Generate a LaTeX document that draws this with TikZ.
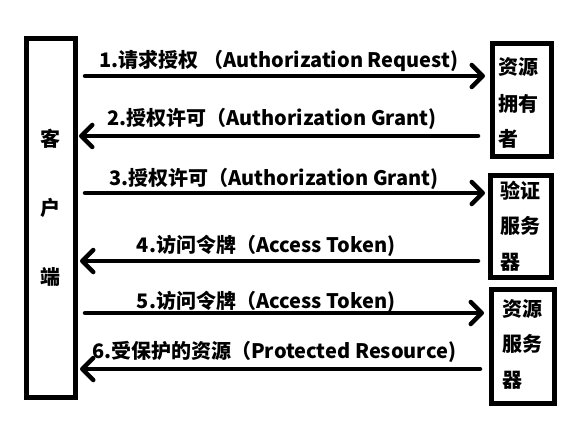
\documentclass[tikz,border=0pt]{standalone}
\usepackage{fontspec}
\setmainfont{Noto Sans CJK SC}
\usetikzlibrary{arrows.meta,calc}
\begin{document}
\begin{tikzpicture}[x=1pt,y=-1pt,
  box/.style={draw,line width=5pt,inner sep=0pt},
  txt/.style={font=\fontsize{20}{23}\selectfont\bfseries,inner sep=0pt},
  lbl/.style={txt},
  conn/.style={line width=4.5pt,line cap=round},
  fwd/.style={conn,-{Straight Barb[length=11pt,width=22pt,line cap=round,line join=round]}},
  bwd/.style={conn,{Straight Barb[length=11pt,width=22pt,line cap=round,line join=round]}-}]
\useasboundingbox (0,0) rectangle (585,430);
\node[box,minimum width=49pt,minimum height=359pt] (client) at (51,218) {};
\node[box,minimum width=59pt,minimum height=113pt] (owner) at (522,100) {};
\node[box,minimum width=61pt,minimum height=102pt] (auth) at (521,226.5) {};
\node[box,minimum width=63pt,minimum height=114pt] (res) at (523,346.5) {};
% texts in boxes
\node[txt] (c1) at (50,139) {客};
\node[txt] (c2) at (50,208) {户};
\node[txt] (c3) at (50,277) {端};
\node[txt,anchor=west] (o1) at (498,67) {资源};
\node[txt,anchor=west] (o2) at (498,104) {拥有};
\node[txt,anchor=west] (o3) at (498,139) {者};
\node[txt,anchor=west] (a1) at (500,191) {验证};
\node[txt,anchor=west] (a2) at (500,226) {服务};
\node[txt,anchor=west] (a3) at (500,262) {器};
\node[txt,anchor=west] (r1) at (502,309) {资源};
\node[txt,anchor=west] (r2) at (502,344) {服务};
\node[txt,anchor=west] (r3) at (502,380) {器};
% labels
\node[lbl] (l1) at (279,61) {1.请求授权 （Authorization Request)};
\node[lbl] (l2) at (272,119) {2.授权许可（Authorization Grant)};
\node[lbl] (l3) at (274,179) {3.授权许可（Authorization Grant)};
\node[lbl] (l4) at (266,246) {4.访问令牌（Access Token)};
\node[lbl] (l5) at (266,302) {5.访问令牌（Access Token)};
\node[lbl] (l6) at (274,352) {6.受保护的资源（Protected Resource)};
% connectors
\draw[fwd] ($(client.east |- 0,76)+(7,0)$) -- ($(owner.west |- 0,76)+(-5,0)$);
\draw[bwd] ($(client.east |- 0,136)+(1,0)$) -- ($(owner.west |- 0,136)+(-12,0)$);
\draw[fwd] ($(client.east |- 0,193)+(7,0)$) -- ($(auth.west |- 0,193)+(-3,0)$);
\draw[bwd] ($(client.east |- 0,261)+(2,0)$) -- ($(auth.west |- 0,261)+(-10,0)$);
\draw[fwd] ($(client.east |- 0,313)+(7,0)$) -- ($(res.west |- 0,313)+(-5,0)$);
\draw[bwd] ($(client.east |- 0,369)+(2,0)$) -- ($(res.west |- 0,369)+(-9,0)$);
\end{tikzpicture}
\end{document}
